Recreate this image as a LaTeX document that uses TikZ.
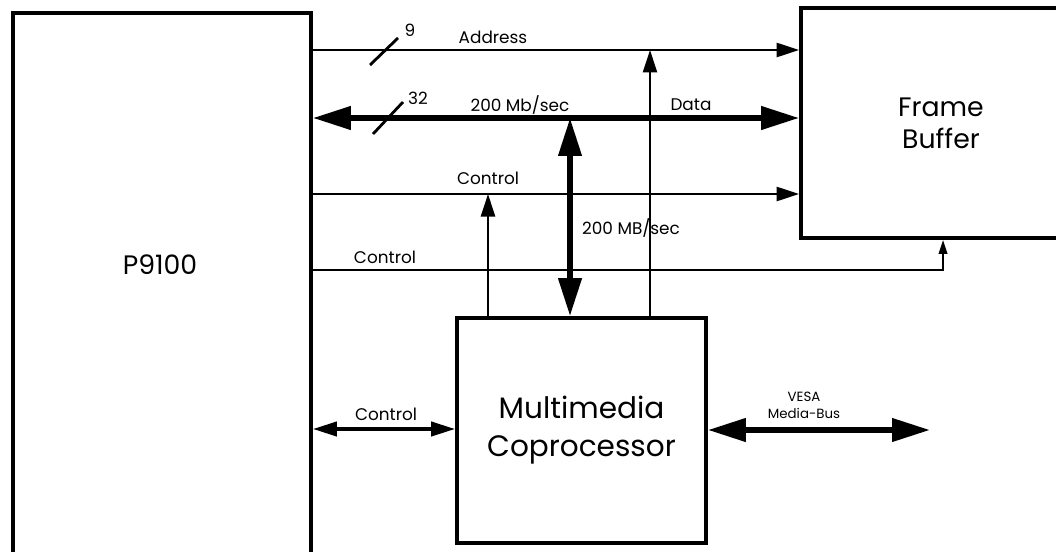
\documentclass[tikz,border=0pt]{standalone}
\usepackage{fontspec}
\setmainfont{Poppins}
\usetikzlibrary{arrows.meta, calc}
\tikzset{
  every picture/.style={line width=1.6pt},
  bigtxt/.style={align=center, inner sep=0pt, font=\fontsize{19}{23}\selectfont},
  blk/.style={draw, line width=2.6pt, bigtxt},
  lbl/.style={inner sep=1pt, font=\fontsize{12}{14}\selectfont},
  small/.style={inner sep=1pt, align=center, font=\fontsize{9.5}{12}\selectfont},
  thinarr/.style={-{Triangle[length=16pt, width=10pt]}, line width=1.6pt},
  ctrlarr/.style={{Triangle[length=17pt, width=10pt]}-{Triangle[length=17pt, width=10pt]}, line width=2.6pt},
  busarr/.style={{Triangle[length=27pt, width=16pt]}-{Triangle[length=27pt, width=16pt]}, line width=4pt},
}

\begin{document}
\begin{tikzpicture}[x=0.025cm, y=-0.025cm,
  tick/.style={line width=2pt},
  tinyarr/.style={-{Triangle[length=10pt, width=6pt]}, line width=1.6pt}]
  \useasboundingbox (0,0) rectangle (1056,551);
  \clip (0,0) rectangle (1056,551);
  % blocks
  \node[blk, minimum width=7.45cm, minimum height=13.925cm] (p9100) at (162,291.5) {};
  \node[bigtxt] (p9100txt) at (160,265) {P9100};
  \node[blk, minimum width=7cm, minimum height=5.75cm] (fb) at (941,123) {Frame\\Buffer};
  \node[blk, minimum width=6.225cm, minimum height=5.625cm,
    font=\fontsize{21}{27}\selectfont] (mmc) at (581.5,430.5) {Multimedia\\Coprocessor};
  % taps on the buses
  \coordinate (atap) at (650,50);
  \coordinate (dtap) at (570,118);
  \coordinate (ctap) at (488,194);
  \coordinate (vesa) at (930,430);
  % address and data
  \draw[thinarr] (p9100.east |- 0,50) -- (fb.west |- 0,50);
  \draw[busarr] (p9100.east |- 0,118) -- (fb.west |- 0,118);
  \draw[tick] (370,65) -- (398,38);
  \draw[tick] (373,134) -- (403,102);
  \node[lbl] (w9) at (410,30) {9};
  \node[lbl] (addr) at (493,37) {Address};
  \node[lbl] (w32) at (418,98) {32};
  \node[lbl] (rate1) at (520,105) {200 Mb/sec};
  \node[lbl] (data) at (691,105) {Data};
  % control lines
  \draw[thinarr] (p9100.east |- ctap) -- (fb.west |- ctap);
  \node[lbl] (ctl1) at (488,178) {Control};
  \draw[tinyarr] (p9100.east |- 0,270) -| (fb.south -| 943,0);
  \node[lbl] (ctl2) at (385,257) {Control};
  % coprocessor links
  \draw[busarr] (dtap) -- (mmc.north -| dtap);
  \node[lbl] (rate2) at (631,228) {200 MB/sec};
  \draw[thinarr] (mmc.north -| ctap) -- (ctap);
  \draw[thinarr] (mmc.north -| atap) -- (atap);
  \draw[ctrlarr] (p9100.east |- 0,429) -- (mmc.west |- 0,429);
  \node[lbl] (ctl3) at (386,414) {Control};
  \draw[busarr] (mmc.east |- vesa) -- (vesa);
  \node[small] (vesatxt) at (804,405) {VESA\\Media-Bus};
\end{tikzpicture}
\end{document}
